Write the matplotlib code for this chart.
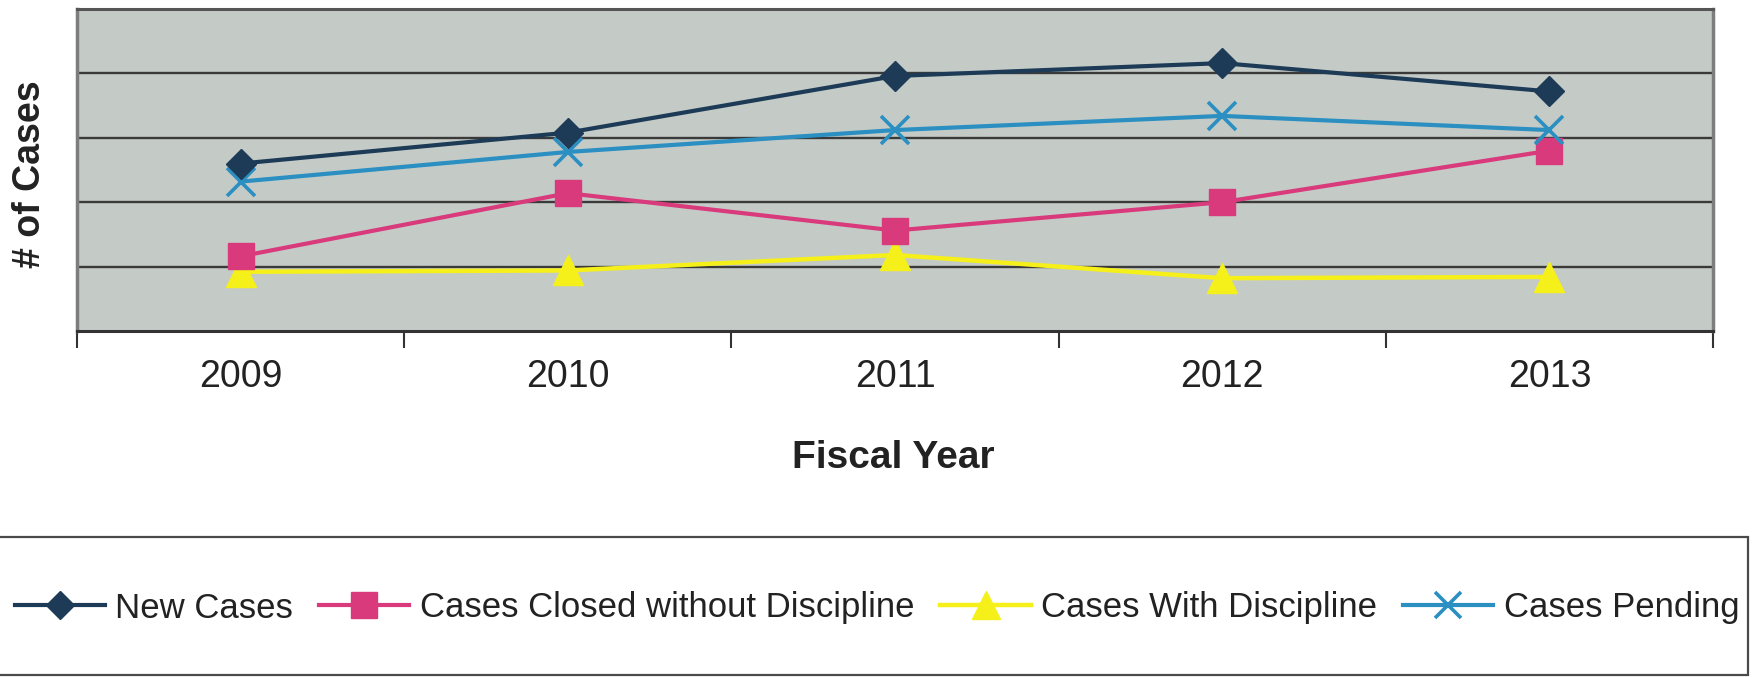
import matplotlib
matplotlib.use("Agg")
import matplotlib.pyplot as plt
from matplotlib.patches import Rectangle

plt.rcParams["font.family"] = ["Liberation Sans", "DejaVu Sans"]

years = ["2009", "2010", "2011", "2012", "2013"]

new_cases = [130, 154, 198, 208, 186]
closed_without = [58, 107, 78, 100, 140]
with_discipline = [46, 47, 59, 41, 42]
pending = [116, 139, 156, 167, 156]

fig = plt.figure(figsize=(17.54, 6.77), dpi=100)
ax = fig.add_axes([77 / 1754, 1 - 331 / 677, (1713 - 77) / 1754, (331 - 9) / 677])
ax.set_facecolor("#c4cbc7")

x = list(range(len(years)))

ax.plot(x, new_cases, color="#1d3b57", lw=3.0, marker="D", ms=15,
        label="New Cases", zorder=5)
ax.plot(x, closed_without, color="#d93a7c", lw=3.0, marker="s", ms=19,
        label="Cases Closed without Discipline", zorder=4)
ax.plot(x, with_discipline, color="#f6f01a", lw=3.2, marker="^", ms=21,
        label="Cases With Discipline", zorder=3)
ax.plot(x, pending, color="#2b8fc2", lw=3.0, marker="x", ms=20, mew=2.6,
        label="Cases Pending", zorder=4)

ax.set_xlim(-0.5, len(years) - 0.5)
ax.set_ylim(0, 250)
ax.set_yticks([50, 100, 150, 200])
ax.yaxis.grid(True, color="#3a3a3a", lw=1.7)
ax.set_axisbelow(True)
ax.tick_params(axis="y", length=0, labelleft=False)

ax.set_xticks(x)
ax.set_xticklabels(years, fontsize=27, color="#222222")
ax.set_xticks([i - 0.5 for i in range(len(years) + 1)], minor=True)
ax.tick_params(axis="x", which="major", length=0, pad=20)
ax.tick_params(axis="x", which="minor", length=12, width=1.5, color="#333333")

for side in ["left", "right"]:
    ax.spines[side].set_color("#7d7d7d")
    ax.spines[side].set_linewidth(2.5)
ax.spines["top"].set_color("#555555")
ax.spines["top"].set_linewidth(2.2)
ax.spines["bottom"].set_color("#333333")
ax.spines["bottom"].set_linewidth(2.2)

fig.text(893 / 1754, 1 - 468 / 677, "Fiscal Year", fontsize=28, fontweight="bold",
         ha="center", va="baseline", color="#222222")
fig.text(30 / 1754, 1 - 174 / 677, "# of Cases", fontsize=27, fontweight="bold",
         rotation=90, ha="center", va="center", color="#222222")

# legend box across the bottom
box = Rectangle((-0.01, 1 - 675 / 677), 1748 / 1754 + 0.01, (675 - 537) / 677,
                transform=fig.transFigure, fill=False, edgecolor="#4a4a4a", lw=1.6)
fig.patches.append(box)

fig.legend(loc="center", bbox_to_anchor=(0.5, 1 - 608 / 677), ncol=4,
           frameon=False, fontsize=25, handlelength=2.6, handletextpad=0.3,
           columnspacing=0.75, markerscale=0.95, labelcolor="#222222")

plt.savefig("out.png", dpi=100)
plt.close()
